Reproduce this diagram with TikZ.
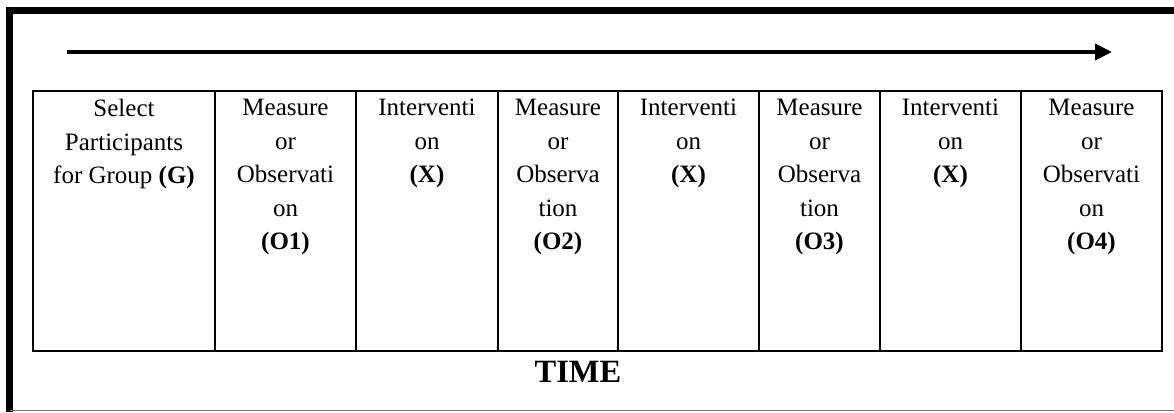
\documentclass[tikz,border=0pt]{standalone}
\usepackage{fontspec}
\setmainfont{Liberation Serif}
\usetikzlibrary{positioning,arrows.meta}

\begin{document}
\begin{tikzpicture}
[x=1pt,y=1pt,
  cellbox/.style={draw,line width=2pt,inner sep=0pt,minimum height=260pt},%
  celltext/.style={anchor=north,inner sep=0pt,align=center,
    font=\fontsize{25}{33.5}\selectfont},%
  timearrow/.style={line width=4pt,-{Triangle[length=17pt,width=16pt]}}]
\useasboundingbox (0,0) rectangle (1174,-412);
%% outer frame
\draw[line width=7pt] (9.5,-412) -- (9.5,-10.5) -- (1174,-10.5);
\draw[line width=1.5pt,black!55] (9.5,-410.5) -- (1174,-410.5);
%% time arrow
\coordinate (tstart) at (67,-52);
\coordinate (tend) at (1112,-52);
\draw[timearrow] (tstart) -- (tend);
%% cells of the design
\foreach \nodename/\x/\w in {g/124/182, oa/285.5/141, xa/427/142,
  ob/558/120, xb/688.5/141, oc/819.5/121, xc/950.5/141, od/1091.5/141} {
  \node (\nodename) at (\x,-221) [cellbox,minimum width=\w] {};
}
%% texts in the cells
\foreach \nodename/\txt in {g/{Select\\Participants\\for Group \textbf{(G)}},
  oa/{Measure\\or\\Observati\\on\\\textbf{(O1)}},
  xa/{Interventi\\on\\\textbf{(X)}},
  ob/{Measure\\or\\Observa\\tion\\\textbf{(O2)}},
  xb/{Interventi\\on\\\textbf{(X)}},
  oc/{Measure\\or\\Observa\\tion\\\textbf{(O3)}},
  xc/{Interventi\\on\\\textbf{(X)}},
  od/{Measure\\or\\Observati\\on\\\textbf{(O4)}}} {
  \node [celltext] (\nodename-text) at ([yshift=-9pt]\nodename.north) {\txt};
}
\node (time) at (578,-372) [font=\bfseries\fontsize{32.5}{36}\selectfont] {TIME};
\end{tikzpicture}
\end{document}
